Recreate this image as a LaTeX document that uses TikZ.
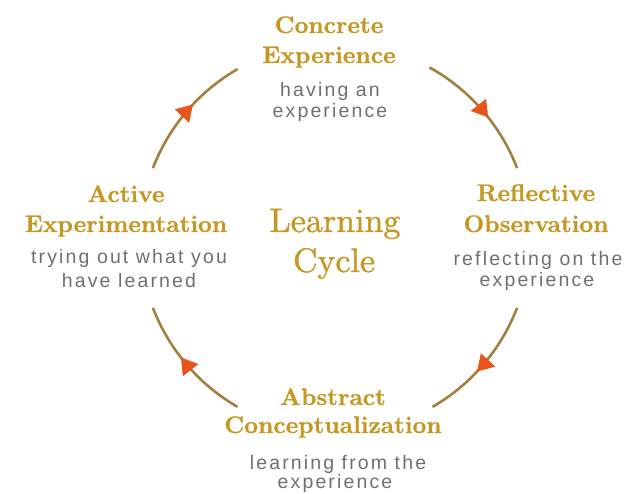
\documentclass[tikz,border=0pt]{standalone}
\usepackage{fontspec}
\usetikzlibrary{arrows.meta,decorations.markings}
\newfontfamily\descfont[LetterSpace=11]{Liberation Sans}
\newfontfamily\ctrfont[FakeBold=1.2]{lmroman10-regular.otf}
\newfontfamily\ttlfont[FakeBold=0.8]{lmroman10-bold.otf}
\definecolor{goldT}{RGB}{196,152,34}
\definecolor{arcC}{RGB}{163,128,66}
\definecolor{tipC}{RGB}{232,84,28}
\definecolor{grayT}{RGB}{112,112,112}
\tikzset{
  ttl/.style={font=\ttlfont\fontsize{24}{28}\selectfont, text=goldT, inner sep=0pt, anchor=base},
  dsc/.style={font=\descfont\fontsize{19.5}{22}\selectfont, text=grayT, inner sep=0pt, anchor=base},
  ctr/.style={font=\ctrfont\fontsize{34}{40}\selectfont, text=goldT, inner sep=0pt, anchor=base},
  cyc/.style={draw=arcC, line width=2.6pt,
    postaction={decorate},
    decoration={markings, mark=at position 0.57 with {\arrow[tipC]{Triangle[length=16pt,width=19pt]}}}}
}
\begin{document}
\begin{tikzpicture}[x=1pt,y=1pt]
\useasboundingbox (0,0) rectangle (626,494);
\coordinate (O) at (335,256);
% texts (y = 494 - pixel baseline)
\node[ttl] (ce1) at (329,461) {Concrete};
\node[ttl] (ce2) at (329,431) {Experience};
\node[dsc] (ced1) at (330,397) {having an};
\node[dsc] (ced2) at (330,376) {experience};

\node[ttl] (ro1) at (536,293) {Reflective};
\node[ttl] (ro2) at (536,262) {Observation};
\node[dsc] (rod1) at (538,228) {reflecting on the};
\node[dsc] (rod2) at (537,207) {experience};

\node[ttl] (ae1) at (126,292) {Active};
\node[ttl] (ae2) at (126,262) {Experimentation};
\node[dsc] (aed1) at (129,230) {trying out what you};
\node[dsc] (aed2) at (129,206) {have learned};

\node[ttl] (ac1) at (333,89) {Abstract};
\node[ttl] (ac2) at (333,61) {Conceptualization};
\node[dsc] (acd1) at (338,24) {learning from the};
\node[dsc] (acd2) at (335,5) {experience};

\node[ctr] (lc1) at (335,262) {Learning};
\node[ctr] (lc2) at (334,222) {Cycle};

% cycle arcs
\path (O) ++(159:195) coordinate (s1);
\path (O) ++(61:195) coordinate (s2);
\path (O) ++(-21:195) coordinate (s3);
\path (O) ++(-120:195) coordinate (s4);
\draw[cyc] (s1) arc[start angle=159, end angle=120, radius=195];
\draw[cyc] (s2) arc[start angle=61, end angle=21, radius=195];
\draw[cyc] (s3) arc[start angle=-21, end angle=-60, radius=195];
\draw[cyc] (s4) arc[start angle=-120, end angle=-159, radius=195];
\end{tikzpicture}
\end{document}
